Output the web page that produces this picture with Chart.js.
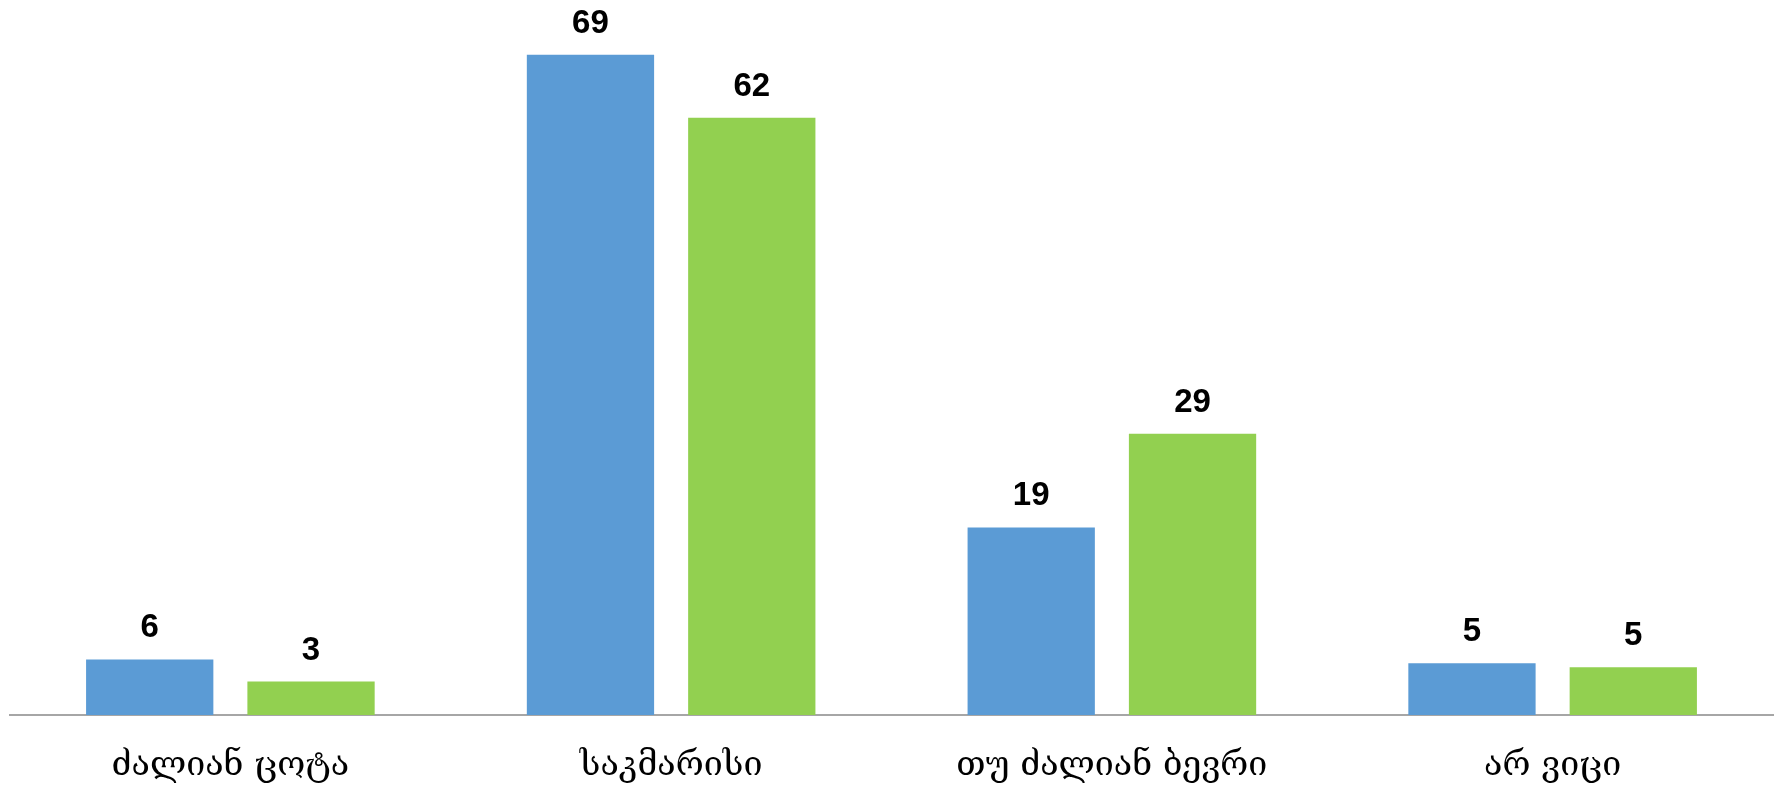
<!DOCTYPE html>
<html>
<head>
<meta charset="utf-8">
<script src="https://cdn.jsdelivr.net/npm/chart.js@4"></script>
<style>
  html, body { margin: 0; padding: 0; background: #fff; }
  #wrap { width: 1779px; height: 788px; }
</style>
</head>
<body>
<div id="wrap"><canvas id="chart"></canvas></div>
<script>
// categories and values
var CATEGORIES = ["ძალიან ცოტა", "საკმარისი", "თუ ძალიან ბევრი", "არ ვიცი"];
var SERIES_A = [5.8, 69, 19.6, 5.4];
var SERIES_B = [3.5, 62.4, 29.4, 5.0];
// text shown above the bars
var LABELS_A = ["6", "69", "19", "5"];
var LABELS_B = ["3", "62", "29", "5"];

var COLOR_A = "#5B9BD5";
var COLOR_B = "#92D050";

// draws the value text above each bar
var barLabels = {
  id: "barLabels",
  afterDatasetsDraw: function (chart) {
    var ctx = chart.ctx;
    ctx.save();
    ctx.font = "bold 33px 'Liberation Sans', Arial, sans-serif";
    ctx.fillStyle = "#000";
    ctx.textAlign = "center";
    ctx.textBaseline = "alphabetic";
    chart.data.datasets.forEach(function (ds, i) {
      var meta = chart.getDatasetMeta(i);
      meta.data.forEach(function (bar, j) {
        ctx.fillText(ds.labelsText[j], bar.x, bar.y - 22);
      });
    });
    ctx.restore();
  }
};

new Chart(document.getElementById("chart").getContext("2d"), {
  type: "bar",
  data: {
    labels: CATEGORIES,
    datasets: [
      { label: "A", data: SERIES_A, labelsText: LABELS_A, backgroundColor: COLOR_A,
        categoryPercentage: 0.732, barPercentage: 0.789 },
      { label: "B", data: SERIES_B, labelsText: LABELS_B, backgroundColor: COLOR_B,
        categoryPercentage: 0.732, barPercentage: 0.789 }
    ]
  },
  options: {
    responsive: true,
    maintainAspectRatio: false,
    animation: false,
    events: [],
    layout: { padding: { left: 10, right: 6, top: 2, bottom: 0 } },
    plugins: {
      legend: { display: false },
      tooltip: { enabled: false }
    },
    scales: {
      x: {
        grid: { display: false, drawTicks: false },
        border: { display: true, color: "#A6A6A6", width: 2 },
        afterFit: function (axis) { axis.height = 73; },
        ticks: {
          color: "#000",
          padding: 31,
          maxRotation: 0,
          font: { family: "'DejaVu Serif', 'DejaVu Sans', serif", size: 34 }
        }
      },
      y: {
        display: false,
        min: 0,
        max: 74.5
      }
    }
  },
  plugins: [barLabels]
});
</script>
</body>
</html>
